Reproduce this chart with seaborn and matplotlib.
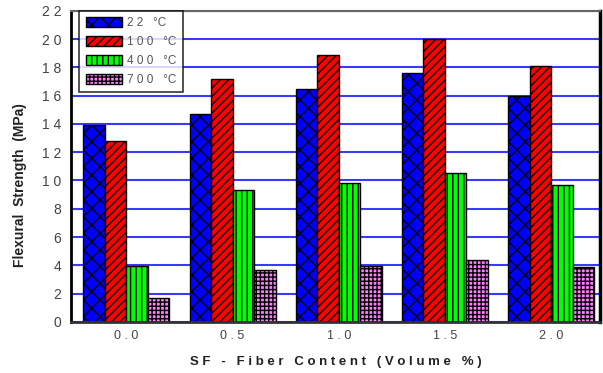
import pandas as pd
import numpy as np
import matplotlib
matplotlib.use('Agg')
import matplotlib.pyplot as plt
import seaborn as sns

# data
fiber_content = ['0.0', '0.5', '1.0', '1.5', '2.0']
temperatures = ['22', '100', '400', '700']
strength_22 = [13.9, 14.7, 16.5, 17.6, 16.0]
strength_100 = [12.8, 17.2, 18.9, 20.0, 18.1]
strength_400 = [3.95, 9.3, 9.85, 10.55, 9.65]
strength_700 = [1.7, 3.7, 3.95, 4.4, 3.85]
y_ticks = list(range(0, 23, 2))

colors = ['#0000ff', '#ff0000', '#00ff00', '#ff80ff']
hatches = ['xx', '////', '|||', '++++']

def spaced(s):
    # the original draws labels with wide letter spacing
    return ' '.join(s)

rows = []
for temp, vals in zip(temperatures, [strength_22, strength_100, strength_400, strength_700]):
    for fc, v in zip(fiber_content, vals):
        rows.append({'content': spaced(fc), 'strength': v, 'temp': temp})
df = pd.DataFrame(rows)

sns.set_style('white')
plt.rcParams['font.family'] = ['Liberation Sans', 'DejaVu Sans']
plt.rcParams['hatch.linewidth'] = 1.0

fig, ax = plt.subplots(figsize=(6.03, 3.73), dpi=100)
fig.subplots_adjust(left=0.118, right=0.995, bottom=0.137, top=0.971)

sns.barplot(data=df, x='content', y='strength', hue='temp', palette=colors,
            edgecolor='black', linewidth=1.0, width=0.81, saturation=1,
            legend=False, ax=ax)

for container, hatch in zip(ax.containers, hatches):
    for bar in container:
        bar.set_hatch(hatch)

ax.set_ylim(0, 22)
ax.set_xlim(-0.52, 4.46)
ax.set_yticks(y_ticks)
ax.set_yticklabels([spaced(str(t)) for t in y_ticks])
ax.tick_params(axis='y', direction='in', length=8.5, width=1.5, color='black',
               labelsize=10, labelcolor='#444444', pad=7)
ax.tick_params(axis='x', length=0, labelsize=9, labelcolor='#444444', pad=6)

ax.set_axisbelow(True)
ax.yaxis.grid(True, color='#3a3aff', linewidth=1.5)

for side, lw, col in [('left', 2, 'black'), ('bottom', 2, '#333333'),
                      ('top', 1.5, '#666666'), ('right', 2.5, 'black')]:
    ax.spines[side].set_visible(True)
    ax.spines[side].set_linewidth(lw)
    ax.spines[side].set_color(col)

ax.set_ylabel('Flexural  Strength  (MPa)', fontsize=10, fontweight='bold',
              color='#222222')
ax.yaxis.set_label_coords(-0.083, 0.44)
ax.set_xlabel(spaced('SF - Fiber Content (Volume %)'), fontsize=9.5,
              fontweight='bold', color='#222222', labelpad=10)

labels = [spaced(t) + '   °C' for t in temperatures]
leg = ax.legend(ax.containers, labels, loc='upper left',
                bbox_to_anchor=(0.015, 1.0), fontsize=8.5, frameon=True,
                fancybox=False, handlelength=3.1, handleheight=0.9,
                labelspacing=0.58, borderpad=0.55, handletextpad=0.45,
                borderaxespad=0)
leg.get_frame().set_edgecolor('black')
leg.get_frame().set_linewidth(1.2)
for t in leg.get_texts():
    t.set_color('#555555')

plt.savefig('out.png', dpi=100)
